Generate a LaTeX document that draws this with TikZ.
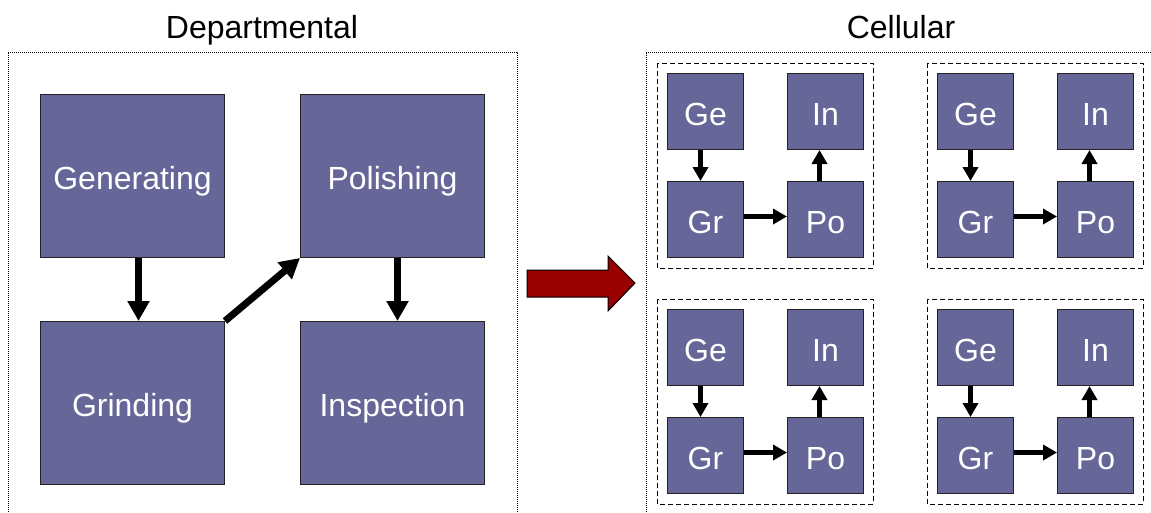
\documentclass[tikz,border=0pt]{standalone}
\usepackage{fontspec}
\setmainfont{Liberation Sans}
\usetikzlibrary{arrows.meta}

\definecolor{boxfill}{HTML}{666699}
\definecolor{boxline}{HTML}{222222}
\definecolor{arrowred}{HTML}{990000}

\tikzset{
  procbox/.style={rectangle, fill=boxfill, draw=boxline, line width=1pt,
    text=white, font=\fontsize{32}{38}\selectfont, inner sep=0pt,
    text height=27pt, text depth=0pt, anchor=north west},
  bigproc/.style={procbox, minimum width=184pt, minimum height=163pt},
  smallproc/.style={procbox, minimum width=76pt, minimum height=76pt},
  bigflow/.style={line width=7pt, -{Triangle[width=21pt,length=20pt]}},
  smallflow/.style={line width=5pt, -{Triangle[width=15pt,length=14pt]}},
  panelframe/.style={line width=1pt, dash pattern=on 1pt off 1pt},
  cellframe/.style={line width=1pt, dash pattern=on 5pt off 3pt},
  heading/.style={font=\fontsize{32}{38}\selectfont, text=black,
    inner sep=0pt, text height=27pt, text depth=0pt}
}

% one manufacturing cell: Ge -> Gr -> Po -> In inside a dashed frame
\newcommand\cellgroup[3]{%
  \draw[cellframe] (#2,#3) rectangle ++(216,205);
  \node[smallproc] (#1ge) at (#2+10,#3+10)  {Ge};
  \node[smallproc] (#1in) at (#2+130,#3+10) {In};
  \node[smallproc] (#1gr) at (#2+10,#3+118) {Gr};
  \node[smallproc] (#1po) at (#2+130,#3+118) {Po};
  \draw[smallflow] ([xshift=-5pt]#1ge.south) -- ([xshift=-5pt]#1gr.north);
  \draw[smallflow] ([yshift=3pt]#1gr.east) -- ([yshift=3pt]#1po.west);
  \draw[smallflow] ([xshift=-6pt]#1po.north) -- ([xshift=-6pt]#1in.south);
}

\begin{document}
\begin{tikzpicture}[x=1pt, y=-1pt]
\useasboundingbox (0,0) rectangle (1151,512);

% headings
\node[heading] (deptitle) at (262,25) {Departmental};
\node[heading] (celltitle) at (901,25) {Cellular};

% panel frames (open at the bottom / right edge)
\draw[panelframe] (8,520) -- (8,52) -- (517,52) -- (517,520);
\draw[panelframe] (646,520) -- (646,52) -- (1160,52);

% departmental layout
\node[bigproc] (gen)   at (40,94)   {Generating};
\node[bigproc] (pol)   at (300,94)  {Polishing};
\node[bigproc] (grind) at (40,321)  {Grinding};
\node[bigproc] (insp)  at (300,321) {Inspection};

\draw[bigflow] ([xshift=6pt]gen.south) -- ([xshift=6pt]grind.north);
\draw[bigflow] (grind.north east) -- (pol.south west);
\draw[bigflow] ([xshift=5pt]pol.south) -- ([xshift=5pt]insp.north);

% transition arrow
\draw[fill=arrowred, draw=black, line width=1pt, line join=miter]
  (527,270) -- (608,270) -- (608,256) -- (635,283) -- (608,311) -- (608,297) -- (527,297) -- cycle;

% cellular layout
\cellgroup{a}{657}{63}
\cellgroup{b}{927}{63}
\cellgroup{c}{657}{299}
\cellgroup{d}{927}{299}
\end{tikzpicture}
\end{document}
